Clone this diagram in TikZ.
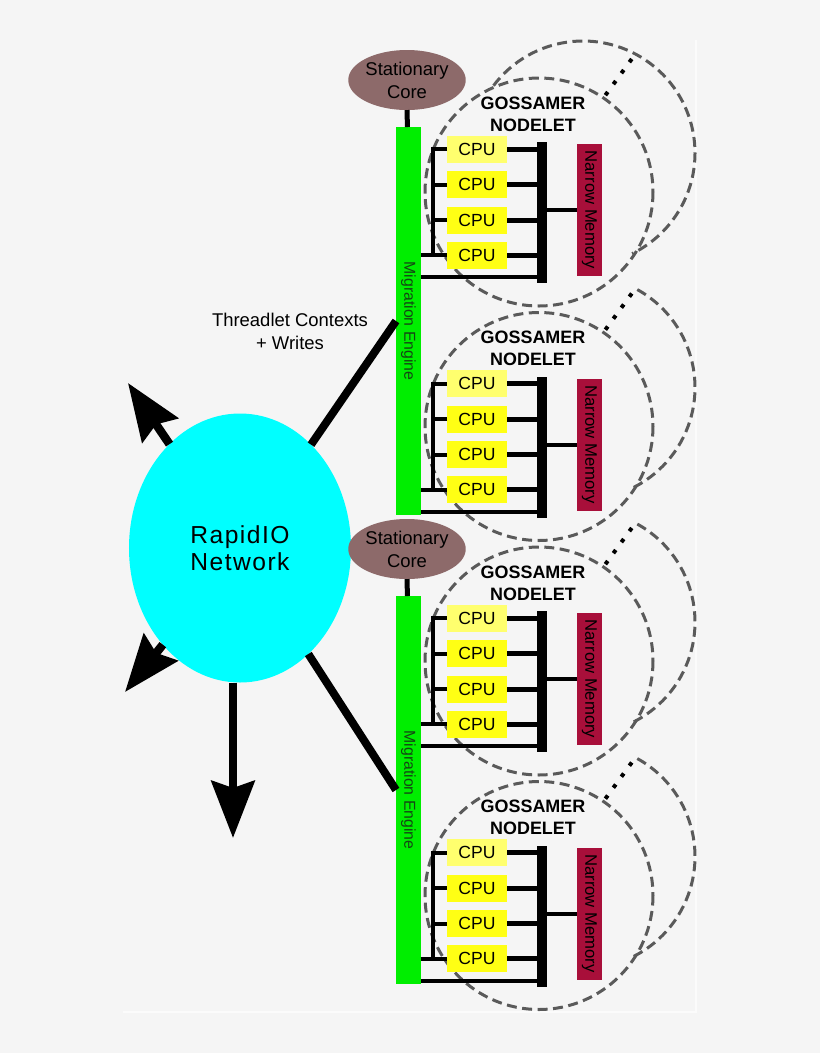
\documentclass[tikz,border=0pt]{standalone}
\usepackage{fontspec}
\setmainfont{Liberation Sans}
\usepackage{graphicx}
\usetikzlibrary{shapes.geometric,arrows.meta,calc}
\definecolor{bgcol}{RGB}{245,245,245}
\definecolor{netcyan}{RGB}{0,255,255}
\definecolor{enggreen}{RGB}{0,238,0}
\definecolor{engtext}{RGB}{20,70,20}
\definecolor{corebrown}{RGB}{141,106,106}
\definecolor{cpuyellow}{RGB}{255,255,20}
\definecolor{cpulight}{RGB}{255,255,110}
\definecolor{memred}{RGB}{168,15,58}
\definecolor{ringgray}{RGB}{90,90,90}

\begin{document}
\begin{tikzpicture}[x=0.2mm,y=-0.2mm,
	every node/.style={inner sep=0pt,outer sep=0pt},
	cpu/.style={fill=cpuyellow,minimum width=12mm,minimum height=5.4mm,font=\fontsize{10}{12}\selectfont},
	engine/.style={fill=enggreen,minimum width=5mm,minimum height=77.6mm,text=engtext,font=\fontsize{9}{11}\selectfont},
	memory/.style={fill=memred,minimum width=5mm,minimum height=26.4mm,font=\fontsize{9.5}{11}\selectfont},
	core/.style={ellipse,fill=corebrown,minimum width=21.2mm,minimum height=12mm,align=center,font=\fontsize{10.5}{13}\selectfont},
	bus/.style={fill=black,minimum width=2mm,minimum height=28.2mm},
	wire/.style={line width=1mm},
	thinwire/.style={line width=0.8mm},
	fat/.style={line width=1.6mm},
	fatarrow/.style={line width=1.7mm,-{Stealth[length=11.4mm,width=8.6mm,inset=1.4mm]}},
	ring/.style={draw=ringgray,line width=0.6mm,dash pattern=on 2mm off 1.1mm},
	dots/.style={line width=0.8mm,dash pattern=on 0.8mm off 1.92mm}]

	\useasboundingbox (0,0) rectangle (820,1053);
	\fill[bgcol] (0,0) rectangle (820,1053);
	\draw[white!60!bgcol,line width=0.25mm] (123,1012) -- (696,1012) -- (696,40);

	% network
	\node[ellipse,fill=netcyan,minimum width=44.4mm,minimum height=53.8mm,align=center,
		font=\fontsize{14}{15.5}\selectfont\addfontfeature{LetterSpace=6}] (net) at (240,548) {RapidIO\\Network};
	\coordinate (tipa) at (128,383);
	\coordinate (tipb) at (125,692);
	\coordinate (tipc) at (233,838);
	\draw[fatarrow] (net) -- (tipa);
	\draw[fatarrow] (net) -- (tipb);
	\draw[fatarrow] (net.south -| tipc) -- (tipc);

	\node[align=center,font=\fontsize{10.5}{13}\selectfont] (ctx) at (290,331) {Threadlet Contexts\\+ Writes};

	% stationary cores and migration engines
	\foreach \g/\yy in {1/0,2/469}{
		\node[core] (core\g) at (407,80+\yy) {Stationary\\Core};
		\node[engine] (me\g) at (408.5,321+\yy) {\rotatebox{-90}{Migration Engine}};
		\draw[wire] (core\g) -- (me\g);
		\draw[fat] (net) -- (me\g.west);
	}

	% nodelets
	\foreach \n/\g/\st in {1/1/-143,2/1/-61,3/2/-61,4/2/-61}{
	\begin{scope}[shift={(0,{234.5*(\n-1)})}]
		\draw[ring] (583,153) ++(\st:112) arc[start angle=\st,end angle=64,radius=112];
		\draw[ring] (539,192) circle[radius=114];
		\draw[dots] (605.4,95.2) -- (632.6,57.8);
		\node[align=center,font=\fontsize{10.2}{12.5}\selectfont\bfseries] (gos\n) at (533,114) {GOSSAMER\\NODELET};
		\foreach \c/\cy/\cf in {1/149/cpulight,2/184.5/cpuyellow,3/220/cpuyellow,4/255/cpuyellow}{
			\node[cpu,fill=\cf] (cpu\n\c) at (477,\cy) {CPU};
		}
		\node[bus] (bus\n) at (541.5,212.5) {};
		\node[memory] (mem\n) at (589.5,210) {\rotatebox{-90}{Narrow Memory}};
		\coordinate (low\n) at (541.5,277);
		\foreach \c in {1,...,4}{
			\draw[wire] (cpu\n\c.east) -- (cpu\n\c.east -| bus\n.west);
		}
		\draw[thinwire] (mem\n.west) -- (mem\n.west -| bus\n.east);
		\draw[thinwire] (cpu\n1.west) -- ++(-14,0) coordinate (tap\n) -- (tap\n |- cpu\n4.west);
		\foreach \c in {2,3}{
			\draw[thinwire] (cpu\n\c.west) -- (cpu\n\c.west -| tap\n);
		}
		\draw[thinwire] (me\g.east |- cpu\n4.west) -- (cpu\n4.west);
		\draw[thinwire] (me\g.east |- low\n) -- (low\n -| bus\n.west);
	\end{scope}
	}

\end{tikzpicture}
\end{document}
